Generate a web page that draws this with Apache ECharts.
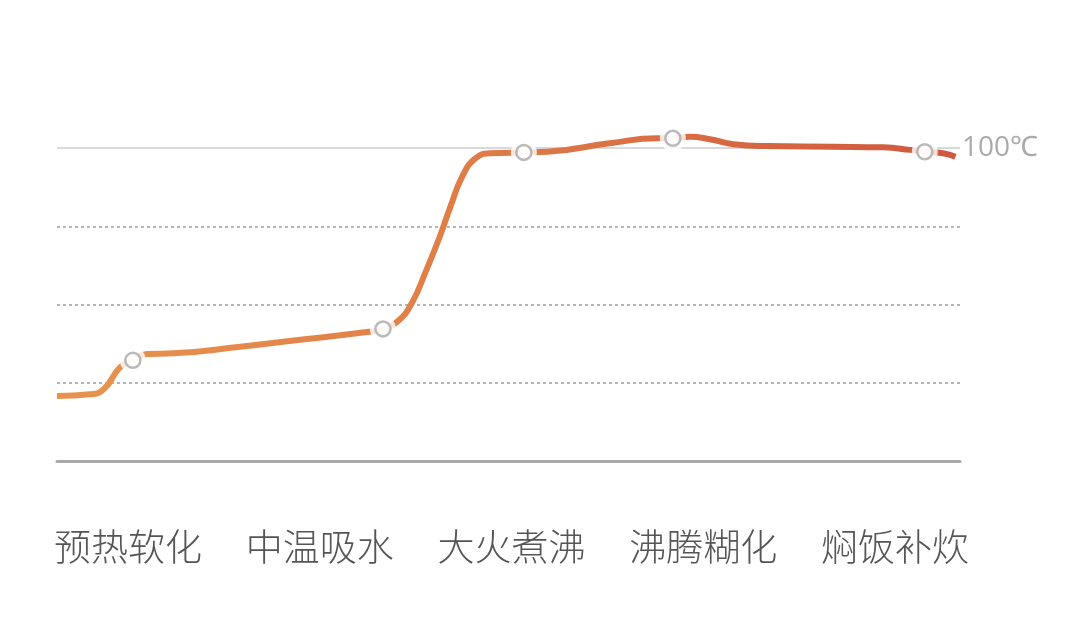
<!DOCTYPE html>
<html>
<head>
<meta charset="utf-8">
<script src="https://cdn.jsdelivr.net/npm/echarts@6/dist/echarts.min.js"></script>
<style>
    html, body { margin: 0; padding: 0; background: #fff; }
    #main { width: 1082px; height: 627px; }
</style>
</head>
<body>
<div id="main"></div>
<script>
// 阶段名称
var stages = ['预热软化', '中温吸水', '大火煮沸', '沸腾糊化', '焖饭补炊'];

// 温度曲线（时间进度 %, 温度值）
var curveX = [0, 3.7, 5.2, 7.0, 8.4, 10.0, 12.9, 20.3, 27.7, 34.3, 36.1, 37.8, 39.3, 40.9, 42.3, 43.6, 44.9, 46.3, 48.0, 51.7, 54.3, 61.2, 66.5, 68.2, 70.1, 72.3, 74.9, 78.6, 85.9, 91.5, 94.5, 96.1, 98.1, 99.5];
var curveY = [20.8, 21.3, 23.0, 30.0, 32.2, 34.2, 34.4, 36.5, 39.0, 41.2, 42.2, 44.8, 50.5, 61.0, 71.0, 81.5, 91.0, 96.6, 98.3, 98.6, 98.8, 101.5, 103.1, 103.1, 103.6, 102.8, 101.2, 100.6, 100.4, 100.2, 99.4, 98.8, 98.3, 97.2];

// 阶段节点
var stageX = [8.4, 36.1, 51.7, 68.2, 96.1];
var stageY = [32.2, 42.2, 98.6, 103.1, 98.8];

// 纵轴刻度
var tempTicks = [0, 25, 50, 75, 100];

function pairs(xs, ys) {
    var out = [];
    for (var i = 0; i < xs.length; i++) {
        out.push([xs[i], ys[i]]);
    }
    return out;
}

var chart = echarts.init(document.getElementById('main'));
var option = {
    animation: false,
    grid: [
        {left: 57, right: 122, top: 148, bottom: 166},
        // 只用来放阶段文字
        {left: 32, right: 91, top: 148, bottom: 166}
    ],
    xAxis: [
        {
            type: 'value',
            gridIndex: 0,
            min: 0,
            max: 100,
            axisLine: {show: true, lineStyle: {color: '#aaaaaa', width: 3}},
            axisTick: {show: false},
            axisLabel: {show: false},
            splitLine: {show: false}
        },
        {
            type: 'category',
            gridIndex: 1,
            data: stages,
            axisLine: {show: false},
            axisTick: {show: false},
            axisLabel: {
                interval: 0,
                margin: 67,
                color: '#555555',
                fontSize: 37,
                fontFamily: 'Noto Sans CJK SC',
                fontWeight: 300
            }
        }
    ],
    yAxis: [
        {
            type: 'value',
            gridIndex: 0,
            min: tempTicks[0],
            max: tempTicks[tempTicks.length - 1],
            interval: 25,
            axisLine: {show: false},
            axisTick: {show: false},
            axisLabel: {show: false},
            splitLine: {
                show: true,
                lineStyle: {
                    color: ['rgba(0,0,0,0)', '#b5b5b5', '#b5b5b5', '#b5b5b5', 'rgba(0,0,0,0)'],
                    width: 2,
                    type: [3, 3]
                }
            }
        },
        {
            // 右侧 100℃
            type: 'value',
            gridIndex: 0,
            position: 'right',
            min: 0,
            max: 100,
            interval: 100,
            axisLine: {show: false},
            axisTick: {show: false},
            axisLabel: {
                margin: 2,
                color: '#aaaaaa',
                fontSize: 28,
                fontFamily: 'Open Sans',
                padding: [0, 0, 8, 0],
                formatter: function (v) {
                    return v === 100 ? '100℃' : '';
                }
            },
            splitLine: {
                show: true,
                lineStyle: {color: ['rgba(0,0,0,0)', '#d9d9d9'], width: 2}
            }
        },
        {
            type: 'value',
            gridIndex: 1,
            show: false
        }
    ],
    series: [
        {
            type: 'line',
            xAxisIndex: 0,
            yAxisIndex: 0,
            z: 2,
            data: pairs(curveX, curveY),
            smooth: 0.5,
            showSymbol: false,
            clip: false,
            lineStyle: {
                width: 6,
                color: {
                    type: 'linear',
                    x: 0, y: 0, x2: 1, y2: 0,
                    colorStops: [
                        {offset: 0, color: '#e8944f'},
                        {offset: 0.45, color: '#e07d47'},
                        {offset: 1, color: '#cf573d'}
                    ]
                }
            }
        },
        {
            // 节点白色衬底
            type: 'scatter',
            xAxisIndex: 0,
            yAxisIndex: 0,
            z: 5,
            data: pairs(stageX, stageY),
            symbol: 'circle',
            symbolSize: 26,
            clip: false,
            silent: true,
            itemStyle: {color: '#ffffff'}
        },
        {
            type: 'scatter',
            xAxisIndex: 0,
            yAxisIndex: 0,
            z: 6,
            data: pairs(stageX, stageY),
            symbol: 'circle',
            symbolSize: 15,
            clip: false,
            silent: true,
            itemStyle: {color: '#ffffff', borderColor: '#a9a9a9', borderWidth: 2.5}
        }
    ]
};
chart.setOption(option);
</script>
</body>
</html>
